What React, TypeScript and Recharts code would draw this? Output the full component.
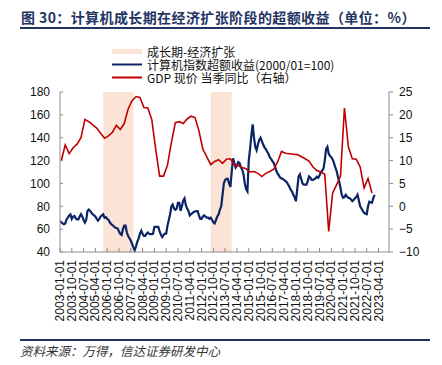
import React from "react";
import { LineChart, Line, XAxis, YAxis, ReferenceArea } from "recharts";

// 计算机指数超额收益(2000/01=100), monthly from 2003-01
const excessReturn = [
  67, 66, 65, 64.3, 65, 68.5, 70, 72, 72.9, 69,
  71, 71.5, 69.5, 68.6, 68.6, 71, 73, 71, 68, 65.7,
  68, 76, 77.2, 76, 74.3, 73, 72, 71, 69, 67.5,
  69, 71, 72, 73, 70, 70.5, 69, 68, 66, 64.5,
  63.5, 62.5, 61.4, 61, 60.5, 58, 56, 55, 60, 63,
  63, 57, 54, 52, 50, 47, 44, 41.5, 45, 49,
  52, 56, 58.6, 56, 54, 54, 56, 57, 56, 55.7,
  55.7, 56, 62, 62, 62, 62, 58, 55, 53, 55,
  56, 56, 63, 68, 73, 80, 81.5, 78, 77, 78,
  83, 83, 76, 80, 85, 87, 81, 78, 76, 72,
  73, 74, 75, 75.5, 75.8, 75.8, 72, 69, 69, 71,
  72, 71, 70, 70, 69, 70, 68, 66, 65, 68,
  71, 73, 77, 80, 90, 100, 103, 104, 104, 100,
  97, 110, 122, 118, 114, 116, 118.7, 118, 114, 112,
  108, 100, 95, 93, 120, 130, 142, 151.6, 140, 132,
  129, 134, 138, 140, 137, 134, 131.6, 130, 128, 126,
  123, 121.6, 119.5, 118, 115, 111, 108.7, 107, 105, 104.4,
  104, 103, 102, 101, 99, 97, 94.5, 93, 90, 88,
  84.4, 95, 106, 108, 104, 100, 99, 99, 99, 102,
  106, 105, 103, 103, 104, 104.4, 106, 105, 107, 110,
  111, 113, 120, 130, 132, 126, 124, 123, 121, 118,
  114, 111, 106, 101.6, 96, 90, 87.5, 88, 90, 88.5,
  87.5, 87, 86, 84.5, 85.5, 87, 88, 90, 85, 80,
  78, 76, 74.3, 73.5, 73, 80, 84, 83.5, 83, 87, 90,
];

// GDP 现价 当季同比（右轴）, quarterly from 2003Q1
const gdpYoy = [
  10.0, 13.4, 11.5, 12.8, 13.6, 15.0, 19.0, 18.5, 17.8, 17.1,
  16.0, 14.9, 15.4, 16.2, 17.7, 16.8, 18.1, 21.3, 23.1, 24.0,
  23.8, 21.6, 21.5, 19.0, 12.5, 6.6, 6.6, 9.0, 14.0, 18.3,
  18.5, 18.1, 19.1, 19.7, 19.4, 16.5, 12.5, 10.8, 9.1, 9.8,
  10.2, 9.4, 10.3, 10.4, 9.1, 8.9, 8.5, 8.2, 7.5, 7.6,
  7.2, 6.5, 7.2, 7.6, 8.1, 9.7, 12.0, 11.6, 11.5, 11.4,
  11.3, 10.9, 10.4, 9.9, 8.6, 7.8, 7.5, 7.0, -5.5, 2.9,
  4.7, 6.6, 21.5, 13.0, 10.4, 10.3, 8.6, 4.0, 6.1, 2.9,
];

// 成长期-经济扩张
const expansionPeriods = [
  ["2005-10", "2007-09"],
  ["2012-08", "2013-12"],
];

const xTickLabels = [
  "2003-01-01", "2003-10-01", "2004-07-01", "2005-04-01", "2006-01-01",
  "2006-10-01", "2007-07-01", "2008-04-01", "2009-01-01", "2009-10-01",
  "2010-07-01", "2011-04-01", "2012-01-01", "2012-10-01", "2013-07-01",
  "2014-04-01", "2015-01-01", "2015-10-01", "2016-07-01", "2017-04-01",
  "2018-01-01", "2018-10-01", "2019-07-01", "2020-04-01", "2021-01-01",
  "2021-10-01", "2022-07-01", "2023-04-01",
];

const leftTicks = [40, 60, 80, 100, 120, 140, 160, 180];
const rightTicks = [-10, -5, 0, 5, 10, 15, 20, 25];

const legendItems = [
  { label: "成长期-经济扩张", kind: "band" },
  { label: "计算机指数超额收益(2000/01=100)", kind: "navy" },
  { label: "GDP 现价 当季同比（右轴）", kind: "red" },
];

const monthIndex = (s: string) => {
  const [y, m] = s.split("-").map(Number);
  return (y - 2003) * 12 + (m - 1);
};

const blueData = excessReturn.map((v, i) => ({ m: i, v }));
const redData = gdpYoy.map((g, q) => ({ m: q * 3 + 1, g }));
const xTicks = xTickLabels.map(monthIndex);
const labelByMonth: Record<number, string> = {};
xTickLabels.forEach((l) => (labelByMonth[monthIndex(l)] = l));

const NAVY = "#0b2465";
const RED = "#c00000";
const BAND = "#fbe3d5";
const CJK = '"Noto Sans CJK SC", "Noto Sans", sans-serif';
const LATIN = '"Liberation Sans", Arial, sans-serif';

const DateTick = (props: any) => {
  const { x, y, payload } = props;
  return (
    <text
      x={x}
      y={y}
      transform={`rotate(-90 ${x} ${y})`}
      textAnchor="end"
      dominantBaseline="central"
      fontSize={12}
      fill="#111"
      fontFamily={LATIN}
    >
      {labelByMonth[payload.value]}
    </text>
  );
};

const fmtRight = (v: number) => (v < 0 ? "\u2212" + Math.abs(v) : String(v));

export default function App() {
  return (
    <div
      style={{
        position: "absolute",
        left: 0,
        top: 0,
        width: 442,
        height: 365,
        background: "#fff",
        overflow: "hidden",
        fontFamily: CJK,
      }}
    >
      <div
        style={{
          position: "absolute",
          left: 21,
          top: 8,
          fontSize: 14,
          fontWeight: 700,
          color: "#1f3463",
          whiteSpace: "nowrap",
          lineHeight: "18px",
          letterSpacing: 0.4,
        }}
      >
        图 30：计算机成长期在经济扩张阶段的超额收益（单位：%）
      </div>
      <div style={{ position: "absolute", left: 20, top: 27, width: 410, height: 1.5, background: "#1f3463" }} />

      <div style={{ position: "absolute", left: 111, top: 45, fontSize: 12, color: "#111" }}>
        {legendItems.map((it) => (
          <div key={it.label} style={{ display: "flex", alignItems: "center", height: 13, whiteSpace: "nowrap" }}>
            <svg width={32} height={13} style={{ marginRight: 4 }}>
              {it.kind === "band" ? (
                <rect x={1} y={4} width={30} height={5} fill={BAND} />
              ) : (
                <line x1={1} x2={31} y1={6.5} y2={6.5} stroke={it.kind === "navy" ? NAVY : RED} strokeWidth={2} />
              )}
            </svg>
            <span style={{ display: "inline-block", height: 13, lineHeight: "13px", overflow: "visible" }}>
              {it.label}
            </span>
          </div>
        ))}
      </div>

      <div style={{ position: "absolute", left: 0, top: 0 }}>
        <LineChart
          width={442}
          height={340}
          margin={{ top: 92, right: 20, bottom: 10, left: 10 }}
          style={{ fontFamily: LATIN }}
        >
          <XAxis
            dataKey="m"
            type="number"
            domain={[0, 251]}
            ticks={xTicks}
            interval={0}
            tick={<DateTick />}
            tickSize={-4}
            tickMargin={12}
            height={78}
            stroke="#8c8c8c"
            allowDataOverflow
          />
          <YAxis
            yAxisId="left"
            domain={[40, 180]}
            ticks={leftTicks}
            interval={0}
            width={50}
            tickSize={-3}
            tickMargin={13}
            stroke="#8c8c8c"
            tick={{ fill: "#111", fontSize: 12 }}
          />
          <YAxis
            yAxisId="right"
            orientation="right"
            domain={[-10, 25]}
            ticks={rightTicks}
            interval={0}
            width={33}
            tickSize={4}
            tickMargin={6}
            tickFormatter={fmtRight}
            stroke="#8c8c8c"
            tick={{ fill: "#111", fontSize: 12, textAnchor: "start" }}
          />
          {expansionPeriods.map(([a, b]) => (
            <ReferenceArea
              key={a}
              yAxisId="left"
              x1={monthIndex(a)}
              x2={monthIndex(b)}
              y1={40}
              y2={180}
              fill={BAND}
              fillOpacity={1}
              stroke="none"
            />
          ))}
          <Line
            yAxisId="left"
            data={blueData}
            dataKey="v"
            type="linear"
            stroke={NAVY}
            strokeWidth={2.2}
            dot={false}
            isAnimationActive={false}
          />
          <Line
            yAxisId="right"
            data={redData}
            dataKey="g"
            type="linear"
            stroke={RED}
            strokeWidth={1.6}
            dot={false}
            isAnimationActive={false}
          />
        </LineChart>
      </div>

      <div style={{ position: "absolute", left: 20, top: 339, width: 410, height: 1.5, background: "#1f3463" }} />
      <div
        style={{
          position: "absolute",
          left: 20,
          top: 343,
          fontSize: 12.5,
          fontStyle: "italic",
          color: "#333",
          whiteSpace: "nowrap",
          lineHeight: "16px",
        }}
      >
        资料来源：万得，信达证券研发中心
      </div>
    </div>
  );
}
